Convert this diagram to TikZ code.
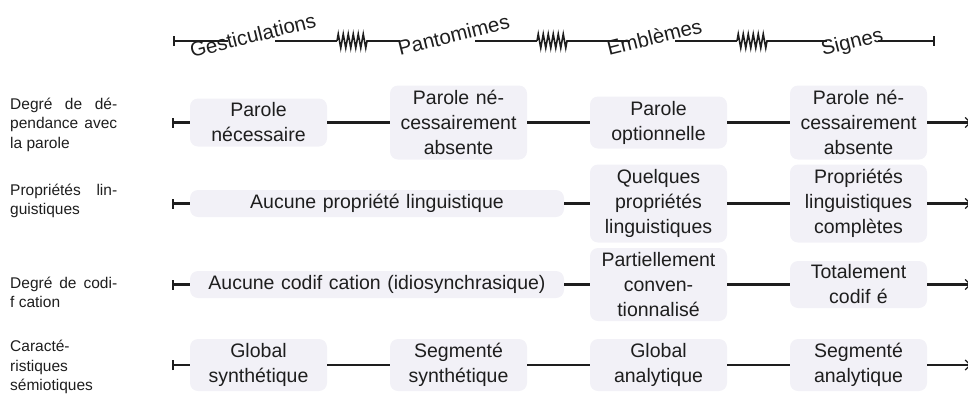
\documentclass[tikz,border=0pt]{standalone}
\usepackage{fontspec}
\setmainfont{Liberation Sans}
\usetikzlibrary{arrows.meta,decorations.pathmorphing}
\definecolor{boxfill}{HTML}{F2F1F7}
\definecolor{ink}{HTML}{1E1E1E}
\begin{document}
\begin{tikzpicture}[x=1pt,y=-1pt,
  cell/.style={fill=boxfill, rounded corners=8pt, minimum width=137pt, text width=133pt, align=center, inner sep=0pt, font=\fontsize{19.5}{25}\selectfont, text=ink},
  widecell/.style={cell, minimum width=374pt, text width=370pt, minimum height=27pt},
  link/.style={line width=2.4pt, draw=ink},
  startlink/.style={link, {Bar[width=10pt,line width=2.4pt]}-},
  endlink/.style={link, -{Straight Barb[length=5pt,width=10pt,line width=1.2pt]}},
  side/.style={anchor=base west, inner sep=0pt, font=\fontsize{15.5}{19.5}\selectfont, text=ink},
  phase/.style={anchor=base west, inner sep=0pt, rotate=14, font=\fontsize{20.5}{24}\selectfont, text=ink},
  axis/.style={line width=2.2pt, draw=ink},
  spring/.style={line width=1.6pt, draw=ink, decorate, decoration={zigzag, segment length=5pt, amplitude=7pt}}
]
\useasboundingbox (0,0) rectangle (968,394);

% ---------- top axis ----------
\coordinate (tl0) at (173,41);
\coordinate (g1) at (228,41);  \coordinate (g2) at (275,41);
\coordinate (z1a) at (337,41); \coordinate (z1b) at (368,41);
\coordinate (p1) at (400,41);  \coordinate (p2) at (475,41);
\coordinate (z2a) at (537,41); \coordinate (z2b) at (568,41);
\coordinate (e1) at (630,41);  \coordinate (e2) at (675,41);
\coordinate (z3a) at (737,41); \coordinate (z3b) at (768,41);
\coordinate (s1) at (827,41);  \coordinate (s2) at (878,41);
\coordinate (tr) at (935,41);

\draw[axis, {Bar[width=10pt,line width=2.2pt]}-] (tl0) -- (g1);
\draw[axis] (g2) -- (z1a);
\draw[spring] (z1a) -- (z1b);
\draw[axis] (z1b) -- (p1);
\draw[axis] (p2) -- (z2a);
\draw[spring] (z2a) -- (z2b);
\draw[axis] (z2b) -- (e1);
\draw[axis] (e2) -- (z3a);
\draw[spring] (z3a) -- (z3b);
\draw[axis] (z3b) -- (s1);
\draw[axis, -{Bar[width=10pt,line width=2.2pt]}] (s2) -- (tr);

\node[phase] (ph1) at (192,58) {Gesticulations};
\node[phase] (ph2) at (400,56) {Pantomimes};
\node[phase] (ph3) at (609,56) {Emblèmes};
\node[phase] (ph4) at (823,56) {Signes};

% ---------- left labels ----------
\node[side] (lab1) at (10,109) {\parbox[t]{110pt}{\makebox[107pt][s]{Degré de dé-}\\\makebox[107pt][s]{pendance avec}\\la parole}};
\node[side] (lab2) at (10,195) {\parbox[t]{110pt}{\makebox[107pt][s]{Propriétés lin-}\\guistiques}};
\node[side] (lab3) at (10,288) {\parbox[t]{110pt}{\makebox[107pt][s]{Degré de codi-}\\f cation}};
\node[side] (lab4) at (10,351.5) {\parbox[t]{110pt}{Caracté-\\ristiques\\sémiotiques}};

% ---------- row 1 ----------
\node[cell, minimum height=48pt] (b11) at (258.5,122.5) {Parole\\nécessaire};
\node[cell, minimum height=74pt] (b12) at (458.5,122.5) {Parole né-\\cessairement\\absente};
\node[cell, minimum height=52pt] (b13) at (658.5,122.5) {Parole\\optionnelle};
\node[cell, minimum height=74pt] (b14) at (858.5,122.5) {Parole né-\\cessairement\\absente};
\coordinate (r1s) at (172,122.5); \coordinate (r1e) at (971,122.5);
\draw[startlink] (r1s) -- (b11);
\draw[link] (b11) -- (b12);
\draw[link] (b12) -- (b13);
\draw[link] (b13) -- (b14);
\draw[endlink] (b14) -- (r1e);

% ---------- row 2 ----------
\node[widecell] (w2) at (377,203.5) {Aucune propriété linguistique};
\node[cell, minimum height=78pt] (b23) at (658.5,203.5) {Quelques\\propriétés\\linguistiques};
\node[cell, minimum height=78pt] (b24) at (858.5,203.5) {Propriétés\\linguistiques\\complètes};
\coordinate (r2s) at (172,203.5); \coordinate (r2e) at (971,203.5);
\draw[startlink] (r2s) -- (w2);
\draw[link] (w2) -- (b23);
\draw[link] (b23) -- (b24);
\draw[endlink] (b24) -- (r2e);

% ---------- row 3 ----------
\node[widecell] (w3) at (377,284.5) {Aucune codif cation (idiosynchrasique)};
\node[cell, minimum height=73pt] (b33) at (658.5,284.5) {Partiellement\\conven-\\tionnalisé};
\node[cell, minimum height=47pt] (b34) at (858.5,284.5) {Totalement\\codif é};
\coordinate (r3s) at (172,284.5); \coordinate (r3e) at (971,284.5);
\draw[startlink] (r3s) -- (w3);
\draw[link] (w3) -- (b33);
\draw[link] (b33) -- (b34);
\draw[endlink] (b34) -- (r3e);

% ---------- row 4 ----------
\node[cell, minimum height=52pt] (b41) at (258.5,365) {Global\\synthétique};
\node[cell, minimum height=52pt] (b42) at (458.5,365) {Segmenté\\synthétique};
\node[cell, minimum height=52pt] (b43) at (658.5,365) {Global\\analytique};
\node[cell, minimum height=52pt] (b44) at (858.5,365) {Segmenté\\analytique};
\coordinate (r4s) at (172,365); \coordinate (r4e) at (971,365);
\draw[startlink] (r4s) -- (b41);
\draw[link] (b41) -- (b42);
\draw[link] (b42) -- (b43);
\draw[link] (b43) -- (b44);
\draw[endlink] (b44) -- (r4e);
\end{tikzpicture}
\end{document}
